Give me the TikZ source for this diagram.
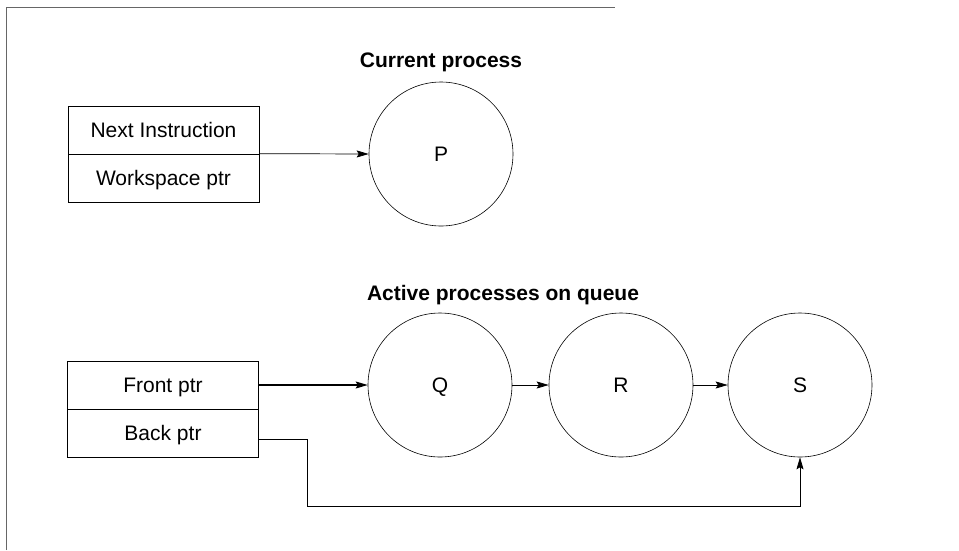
\documentclass[tikz,border=0pt]{standalone}
\usepackage{fontspec}
\setmainfont{Liberation Sans}
\usetikzlibrary{arrows.meta,calc}
\tikzset{
  cell/.style={draw, line width=0.7pt, minimum width=191pt, minimum height=48pt, inner sep=0pt, text height=15pt, text depth=0pt, font=\fontsize{21}{24}\selectfont},
  proc/.style={draw, circle, line width=0.6pt, minimum size=144pt, inner sep=0pt, text height=15pt, text depth=0pt, font=\fontsize{21}{24}\selectfont},
  title/.style={font=\fontsize{21}{24}\selectfont\bfseries},
  arr/.style={line width=0.7pt, -{Stealth[length=12pt,width=7pt,inset=2pt]}},
  frame/.style={draw=black!60, line width=0.8pt}
}
\begin{document}
\begin{tikzpicture}[x=1pt,y=-1pt]
\useasboundingbox (0,0) rectangle (959,550);
\draw[frame] (6,550) -- (6,7) -- (615,7);
% current process
\node[cell] (ni) at (163.5,130) {Next Instruction};
\node[cell] (ws) at (163.5,178) {Workspace ptr};
\node[proc] (P) at (441,154) {P};
\node[title] (t1) at (441,62) {Current process};
\draw[arr] (ws.north east) -- (P.west);
% queue
\node[cell] (fp) at (163,385) {Front ptr};
\node[cell] (bp) at (163,433) {Back ptr};
\node[proc] (Q) at (440,385) {Q};
\node[proc] (R) at (621,385) {R};
\node[proc] (S) at (800,385) {S};
\node[title] (t2) at (503,295) {Active processes on queue};
\coordinate (c1) at (307,506);
\draw[arr, line width=1.1pt] (fp.east) -- (Q.west);
\draw[arr] (Q.east) -- (R.west);
\draw[arr] (R.east) -- (S.west);
\draw[arr] ([yshift=-6pt]bp.east) -| (c1) -| (S.south);
\end{tikzpicture}
\end{document}
